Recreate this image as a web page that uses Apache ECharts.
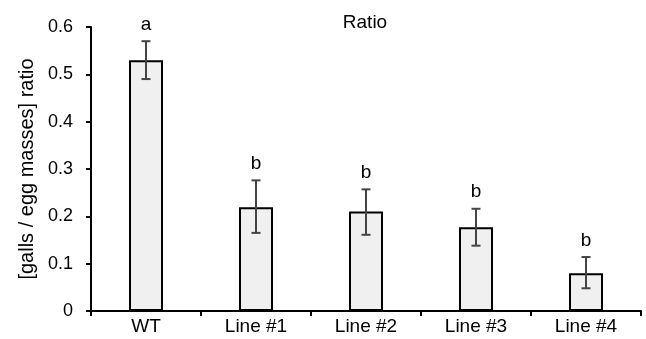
<!DOCTYPE html>
<html><head><meta charset="utf-8">
<script src="https://cdn.jsdelivr.net/npm/echarts@6/dist/echarts.min.js"></script>
<style>html,body{margin:0;padding:0;background:#fff}#c{width:646px;height:339px}</style>
</head><body><div id="c"></div>
<script>
var categories = ['WT', 'Line #1', 'Line #2', 'Line #3', 'Line #4'];
var values = [0.530, 0.219, 0.210, 0.177, 0.080];
var errLow = [0.490, 0.165, 0.161, 0.138, 0.048];
var errHigh = [0.570, 0.276, 0.257, 0.216, 0.114];
var letters = ['a', 'b', 'b', 'b', 'b'];

var errData = categories.map(function (c, i) { return [i, errLow[i], errHigh[i], letters[i]]; });
var chart = echarts.init(document.getElementById('c'));
var font = 'Liberation Sans, Arial, sans-serif';
chart.setOption({
  animation: false,
  title: { text: 'Ratio', left: 360, top: 8, textAlign: 'center',
    textStyle: { fontFamily: font, fontSize: 19, fontWeight: 'normal', color: '#000' } },
  grid: { left: 91, right: 5, top: 27, bottom: 28 },
  xAxis: {
    type: 'category', data: categories,
    axisLine: { lineStyle: { color: '#000', width: 2 } },
    axisTick: { show: true, length: 5, lineStyle: { color: '#000', width: 2 } },
    axisLabel: { fontFamily: font, fontSize: 19, color: '#000', margin: 6 }
  },
  yAxis: {
    type: 'value', min: 0, max: 0.6, interval: 0.1,
    name: '[galls / egg masses] ratio', nameLocation: 'middle', nameGap: 53,
    nameTextStyle: { fontFamily: font, fontSize: 20, color: '#000' },
    axisLine: { show: true, lineStyle: { color: '#000', width: 2 } },
    axisTick: { show: true, length: 5, lineStyle: { color: '#000', width: 2 } },
    splitLine: { show: false },
    axisLabel: { fontFamily: font, fontSize: 18, color: '#000', margin: 18,
      formatter: function (v) { return v === 0 ? '0' : v.toFixed(1); } }
  },
  series: [{
    type: 'bar', data: values, barWidth: 34, z: 2,
    itemStyle: { color: '#f0f0f0', borderColor: '#000', borderWidth: 2 }
  }, {
    type: 'custom', data: errData, z: 5,
    renderItem: function (params, api) {
      var x = api.value(0);
      var lo = api.coord([x, api.value(1)]);
      var hi = api.coord([x, api.value(2)]);
      var cap = 4.5;
      var st = { stroke: '#444', lineWidth: 2 };
      return { type: 'group', children: [
        { type: 'line', shape: { x1: lo[0], y1: lo[1], x2: hi[0], y2: hi[1] }, style: st },
        { type: 'line', shape: { x1: lo[0] - cap, y1: lo[1], x2: lo[0] + cap, y2: lo[1] }, style: st },
        { type: 'line', shape: { x1: hi[0] - cap, y1: hi[1], x2: hi[0] + cap, y2: hi[1] }, style: st },
        { type: 'text', style: { x: hi[0], y: hi[1] - 7, text: api.value(3), textAlign: 'center', textVerticalAlign: 'bottom',
          font: '19px ' + font, fill: '#000' } }
      ]};
    }
  }]
});
</script></body></html>
